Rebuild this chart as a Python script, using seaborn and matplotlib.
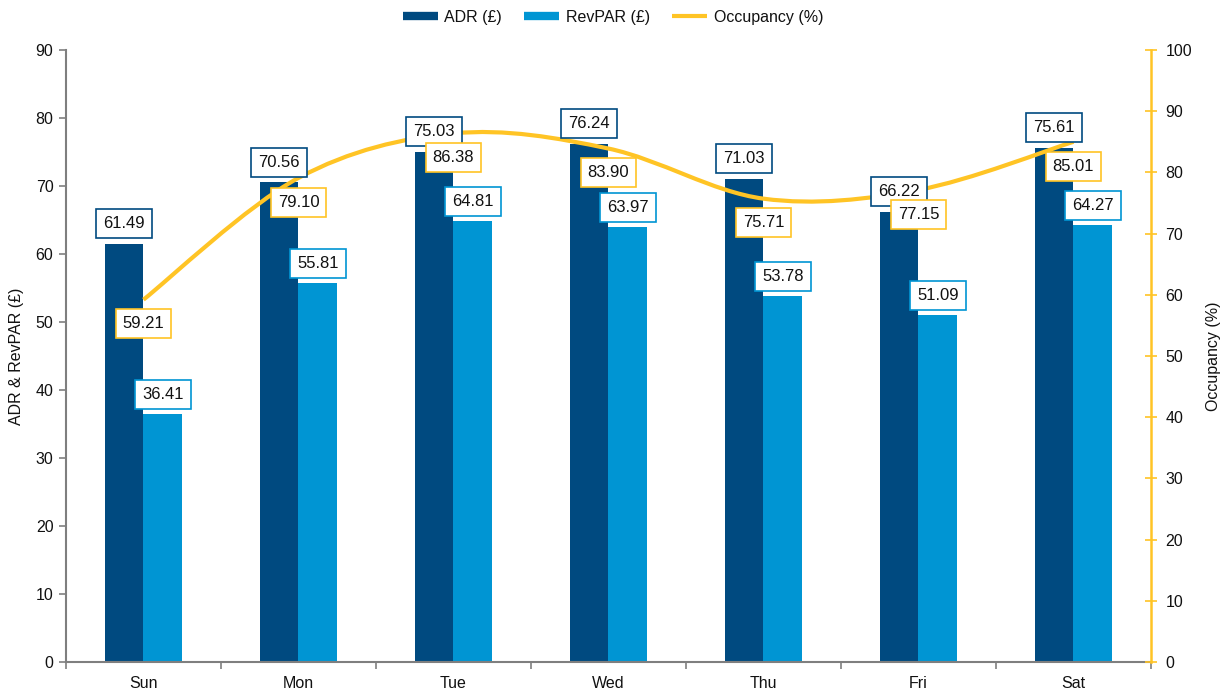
import numpy as np
import pandas as pd
import matplotlib
matplotlib.use("Agg")
import matplotlib.pyplot as plt
from matplotlib.path import Path
from matplotlib.patches import PathPatch
from matplotlib.lines import Line2D
from matplotlib.ticker import FixedLocator
import seaborn as sns

# Weekly hotel performance
days = ["Sun", "Mon", "Tue", "Wed", "Thu", "Fri", "Sat"]
adr = [61.49, 70.56, 75.03, 76.24, 71.03, 66.22, 75.61]
revpar = [36.41, 55.81, 64.81, 63.97, 53.78, 51.09, 64.27]
occupancy = [59.21, 79.10, 86.38, 83.90, 75.71, 77.15, 85.01]

C_ADR = "#004A80"
C_REV = "#0095D3"
C_OCC = "#FFC425"
C_AXIS = "#7F7F7F"
TXT = "#111111"

sns.set_theme(style="white")
plt.rcParams["font.family"] = ["Liberation Sans", "DejaVu Sans"]

df = pd.DataFrame({
    "day": days * 2,
    "value": adr + revpar,
    "metric": ["ADR (£)"] * len(days) + ["RevPAR (£)"] * len(days),
})

fig = plt.figure(figsize=(12.26, 6.91), dpi=100)
ax = fig.add_axes([0.0538, 0.042, 0.8850, 0.8856])

sns.barplot(data=df, x="day", y="value", hue="metric", order=days,
            palette=[C_ADR, C_REV], width=0.5, gap=0, saturation=1,
            ax=ax, legend=False, edgecolor="none", linewidth=0)

ax.set_xlim(-0.5, len(days) - 0.5)
ax.set_ylim(0, 90)
ax.set_yticks(np.arange(0, 91, 10))
ax.set_xlabel("")
ax.set_ylabel("ADR & RevPAR (£)", fontsize=11.5, color=TXT, labelpad=8)

for s in ["top", "right"]:
    ax.spines[s].set_visible(False)
for s in ["left", "bottom"]:
    ax.spines[s].set_color(C_AXIS)
    ax.spines[s].set_linewidth(1.5)
ax.tick_params(axis="y", which="major", direction="out", length=5, width=1.2,
               color=C_AXIS, labelsize=11.5, labelcolor=TXT, left=True, pad=4)
ax.tick_params(axis="x", which="major", length=0, labelsize=11.5,
               labelcolor=TXT, pad=10)
ax.xaxis.set_minor_locator(FixedLocator(np.arange(-0.5, len(days), 1.0)))
ax.tick_params(axis="x", which="minor", direction="out", length=5, width=1.2,
               color=C_AXIS, bottom=True)

# Occupancy on secondary axis
ax2 = ax.twinx()
ax2.set_ylim(0, 100)
ax2.set_yticks(np.arange(0, 101, 10))
for s in ["top", "left", "bottom"]:
    ax2.spines[s].set_visible(False)
ax2.spines["right"].set_color(C_OCC)
ax2.spines["right"].set_linewidth(1.8)
ax2.tick_params(axis="y", direction="inout", length=9, width=1.2, color=C_OCC,
                labelsize=11.5, labelcolor=TXT, pad=6)
ax2.set_ylabel("Occupancy (%)", fontsize=11.5, color=TXT, rotation=90, labelpad=10)
ax2.grid(False)
ax.grid(False)

# Smoothed occupancy line (Catmull-Rom as cubic Bezier segments)
xs = np.arange(len(days), dtype=float)
pts = np.column_stack([xs, np.array(occupancy, dtype=float)])
verts = [tuple(pts[0])]
codes = [Path.MOVETO]
n = len(pts)
for i in range(n - 1):
    p0 = pts[i - 1] if i > 0 else pts[i]
    p1 = pts[i]
    p2 = pts[i + 1]
    p3 = pts[i + 2] if i + 2 < n else pts[i + 1]
    c1 = p1 + (p2 - p0) / 6.0
    c2 = p2 - (p3 - p1) / 6.0
    verts += [tuple(c1), tuple(c2), tuple(p2)]
    codes += [Path.CURVE4] * 3
ax2.add_patch(PathPatch(Path(verts, codes), facecolor="none", edgecolor=C_OCC,
                        linewidth=3, capstyle="butt", zorder=3))

# Value labels
off = 0.125
box = dict(boxstyle="square,pad=0.42", facecolor="white", linewidth=1.2)
for i, (a, r) in enumerate(zip(adr, revpar)):
    ax2.annotate(f"{a:.2f}", xy=(i - off, a), xycoords=ax.transData,
                 xytext=(0, 14.5), textcoords="offset points",
                 ha="center", va="center", fontsize=12, color=TXT,
                 bbox=dict(box, edgecolor=C_ADR), zorder=5)
    ax2.annotate(f"{r:.2f}", xy=(i + off, r), xycoords=ax.transData,
                 xytext=(0, 14), textcoords="offset points",
                 ha="center", va="center", fontsize=12, color=TXT,
                 bbox=dict(box, edgecolor=C_REV), zorder=5)
for i, o in enumerate(occupancy):
    ax2.annotate(f"{o:.2f}", xy=(i, o), xycoords=ax2.transData,
                 xytext=(0, -17.5), textcoords="offset points",
                 ha="center", va="center", fontsize=12, color=TXT,
                 bbox=dict(box, edgecolor=C_OCC), zorder=6)

handles = [
    Line2D([], [], color=C_ADR, linewidth=6, solid_capstyle="butt"),
    Line2D([], [], color=C_REV, linewidth=6, solid_capstyle="butt"),
    Line2D([], [], color=C_OCC, linewidth=3, solid_capstyle="butt"),
]
fig.legend(handles, ["ADR (£)", "RevPAR (£)", "Occupancy (%)"],
           loc="center", bbox_to_anchor=(0.5, 0.975), ncol=3, frameon=False,
           fontsize=11.5, handlelength=2.2, handletextpad=0.4, columnspacing=1.4,
           labelcolor=TXT)

fig.savefig("out.png", dpi=100, facecolor="white")
